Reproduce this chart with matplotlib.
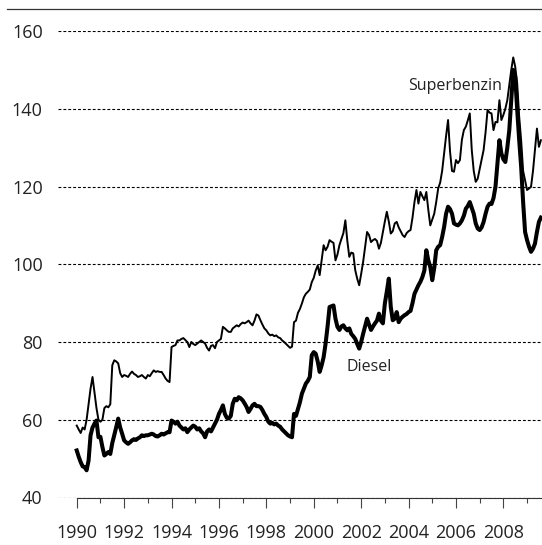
import numpy as np
import matplotlib
matplotlib.use("Agg")
import matplotlib.pyplot as plt
from matplotlib.lines import Line2D

plt.rcParams['font.family'] = ['Open Sans', 'DejaVu Sans']

# Monthly values, Jan 1990 - Aug 2009
superbenzin = (
    [58.5, 57.5, 56.6, 58, 57.5, 60, 64, 68, 71, 67, 63, 60] +            # 1990
    [59.5, 60, 63, 63.5, 63.2, 64, 74, 75.3, 75, 74.5, 72, 71] +          # 1991
    [71.5, 71.3, 71, 71.8, 72.4, 71.8, 71.5, 71, 71.2, 71.5, 71, 70.6] +  # 1992
    [71.5, 71.2, 72, 72.7, 72.3, 72.5, 72.3, 72.3, 71.5, 70.6, 70, 69.7] +  # 1993
    [78.7, 79, 79.2, 80.4, 80.4, 80.8, 81, 80.5, 80, 78.7, 80, 79.5] +    # 1994
    [79.2, 79.6, 80, 80.4, 80, 79.6, 78.5, 77.8, 79, 79.2, 78.4, 80] +    # 1995
    [80.4, 80.8, 83.9, 83.5, 83, 82.6, 82.6, 83.5, 83.9, 84.3, 84, 84.6] +  # 1996
    [85, 84.8, 85.1, 85.5, 84.8, 84.3, 85.5, 87.1, 86.8, 85.6, 84.5, 83.5] +  # 1997
    [83, 82.2, 81.7, 81.9, 81.5, 81.7, 81.2, 81, 80.4, 80, 79.5, 79] +    # 1998
    [78.5, 78.8, 85.1, 85.5, 87.5, 88.5, 89.9, 91.5, 92.4, 92.9, 93.5, 95.4] +  # 1999
    [96.5, 98.4, 99.7, 97.2, 101, 104.9, 103.6, 104.5, 106.2, 105.8, 105.5, 101] +  # 2000
    [102.5, 104.9, 106.5, 108, 111.3, 106, 101.9, 103, 102.8, 98.5, 96.3, 94.6] +  # 2001
    [97.5, 100.6, 104.5, 108.3, 107.5, 105.7, 106.2, 106.5, 106, 104, 105.5, 108.3] +  # 2002
    [111, 113.5, 111, 107.9, 108.5, 110.5, 110.9, 109.5, 108.5, 107.5, 107, 108] +  # 2003
    [108.5, 108.8, 112, 116, 119.1, 115.6, 118.6, 117.5, 116.5, 118.6, 114, 110] +  # 2004
    [111.5, 113, 116, 119.5, 121, 124, 128.5, 133, 137.1, 129, 124, 123.8] +  # 2005
    [126.8, 126, 126.8, 132, 134.5, 135.4, 137, 138.8, 129.4, 124, 121.2, 122] +  # 2006
    [124.5, 127, 129.4, 134, 139.7, 139, 138.8, 134.5, 136.6, 136.5, 142.2, 137.1] +  # 2007
    [138.4, 140, 142.2, 146, 150, 153.2, 150.8, 146.5, 138, 131.9, 124, 121.6] +  # 2008
    [119.1, 119.5, 119.9, 124, 129.4, 134.9, 130.2, 131.9]                # 2009
)

diesel = (
    [52.1, 50.5, 49.1, 48, 47.8, 47, 49.5, 56, 58, 59, 59.8, 55.5] +      # 1990
    [55.6, 53, 50.8, 51.2, 51.7, 51.2, 54, 56, 58.1, 60.3, 58, 56.4] +    # 1991
    [54.7, 54.2, 53.8, 54.2, 54.7, 55, 54.8, 55.2, 55.5, 56, 55.8, 56] +  # 1992
    [56, 56.2, 56.4, 56.2, 55.8, 55.7, 56, 56.4, 56.2, 56.5, 56.8, 56.8] +  # 1993
    [59.8, 59.5, 59, 59.5, 58.5, 58, 57.5, 57.8, 56.8, 57.5, 58, 58.5] +  # 1994
    [58.2, 57.5, 57.8, 57, 56.5, 55.5, 57, 57.5, 57, 58, 59, 60] +        # 1995
    [61.5, 62.5, 63.7, 61.5, 60.5, 60.3, 61, 64.1, 65.4, 65, 65.8, 65.5] +  # 1996
    [65, 64.2, 63.3, 62, 62.8, 63.7, 64.1, 63.5, 63.5, 63.3, 62.5, 61.5] +  # 1997
    [60.7, 59.5, 59, 59.2, 58.8, 59, 58.5, 58.2, 57.5, 57, 56.5, 56] +    # 1998
    [55.7, 55.5, 61.5, 61, 62.8, 64.5, 66.7, 68, 69.3, 70, 71, 76.6] +    # 1999
    [77.4, 77, 75, 72.3, 74, 76.1, 79.6, 84, 89, 89.2, 89.4, 86] +        # 2000
    [83.9, 83.1, 84, 84.3, 83.5, 83, 83.5, 82.1, 81.5, 80.8, 79.5, 78.3] +  # 2001
    [80, 82.1, 84, 86, 84.5, 83.1, 84, 84.8, 85.5, 87.3, 85.5, 84.8] +    # 2002
    [89.9, 93, 96.3, 89, 85.6, 86, 87.7, 85.1, 86, 86.5, 86.9, 87.2] +    # 2003
    [87.7, 88, 90, 92.4, 93.5, 94.6, 95.5, 96.7, 98.4, 103.6, 101, 99.3] +  # 2004
    [95.9, 99, 103.6, 104.5, 104.9, 107, 109.6, 113, 114.8, 114.2, 113, 110.5] +  # 2005
    [110.2, 110, 110.5, 111.3, 112.5, 114.3, 115, 116, 114.5, 113, 110.5, 109.2] +  # 2006
    [108.8, 109.5, 110.9, 113, 114.8, 115.6, 115.5, 117, 119.9, 126, 131.9, 128.5] +  # 2007
    [127, 126.3, 130, 134.5, 142.2, 150, 148.2, 139.7, 132, 125.1, 116, 108.3] +  # 2008
    [106.2, 104.5, 103.2, 104, 105.3, 108.3, 110.9, 112]                  # 2009
)

start_year = 1990
months = np.arange(len(superbenzin))
x = start_year + months / 12.0

y_ticks = [40, 60, 80, 100, 120, 140, 160]
x_major = list(range(1990, 2010, 2))
x_minor = list(range(1991, 2010, 2))

W, H = 542, 545
fig = plt.figure(figsize=(W / 100, H / 100), dpi=100)
ax = fig.add_axes([58 / W, 1 - 497.5 / H, (W - 58) / W, (497.5 - 31) / H])

xmin, xmax = 1989.21, 2009.63
ax.set_xlim(xmin, xmax)
ax.set_ylim(40, 160)

for yv in y_ticks:
    ax.axhline(yv, color='black', lw=0.8, linestyle=(0, (2.6, 1.8)), zorder=1)

ax.plot(x, superbenzin, color='black', lw=1.4, solid_joinstyle='round', zorder=3, clip_on=False)
ax.plot(x, diesel, color='black', lw=2.9, solid_joinstyle='round', zorder=4, clip_on=False)

for s in ['left', 'right', 'top']:
    ax.spines[s].set_visible(False)
ax.spines['bottom'].set_bounds(1990, xmax)
ax.spines['bottom'].set_linewidth(0.8)
ax.spines['bottom'].set_color('#333333')

ax.set_yticks(y_ticks)
ax.set_yticklabels([str(v) for v in y_ticks])
ax.tick_params(axis='y', length=0, pad=11, labelsize=13, labelcolor='#222222')

ax.set_xticks(x_major)
ax.set_xticklabels([str(v) for v in x_major])
ax.set_xticks(x_minor, minor=True)
ax.tick_params(axis='x', which='major', length=7, width=0.8, color='#444444',
               direction='out', pad=12, labelsize=13, labelcolor='#222222')
ax.tick_params(axis='x', which='minor', length=3.5, width=0.8, color='#444444',
               direction='out')

ax.text(2007.93, 145.8, 'Superbenzin', ha='right', va='center', fontsize=11.5, color='#222222')
ax.text(2001.39, 73.5, 'Diesel', ha='left', va='center', fontsize=11.5, color='#222222')

fig.add_artist(Line2D([7 / W, 1.0], [1 - 9 / H, 1 - 9 / H], transform=fig.transFigure,
                      color='#333333', lw=0.9))

fig.savefig('out.png', dpi=100)
